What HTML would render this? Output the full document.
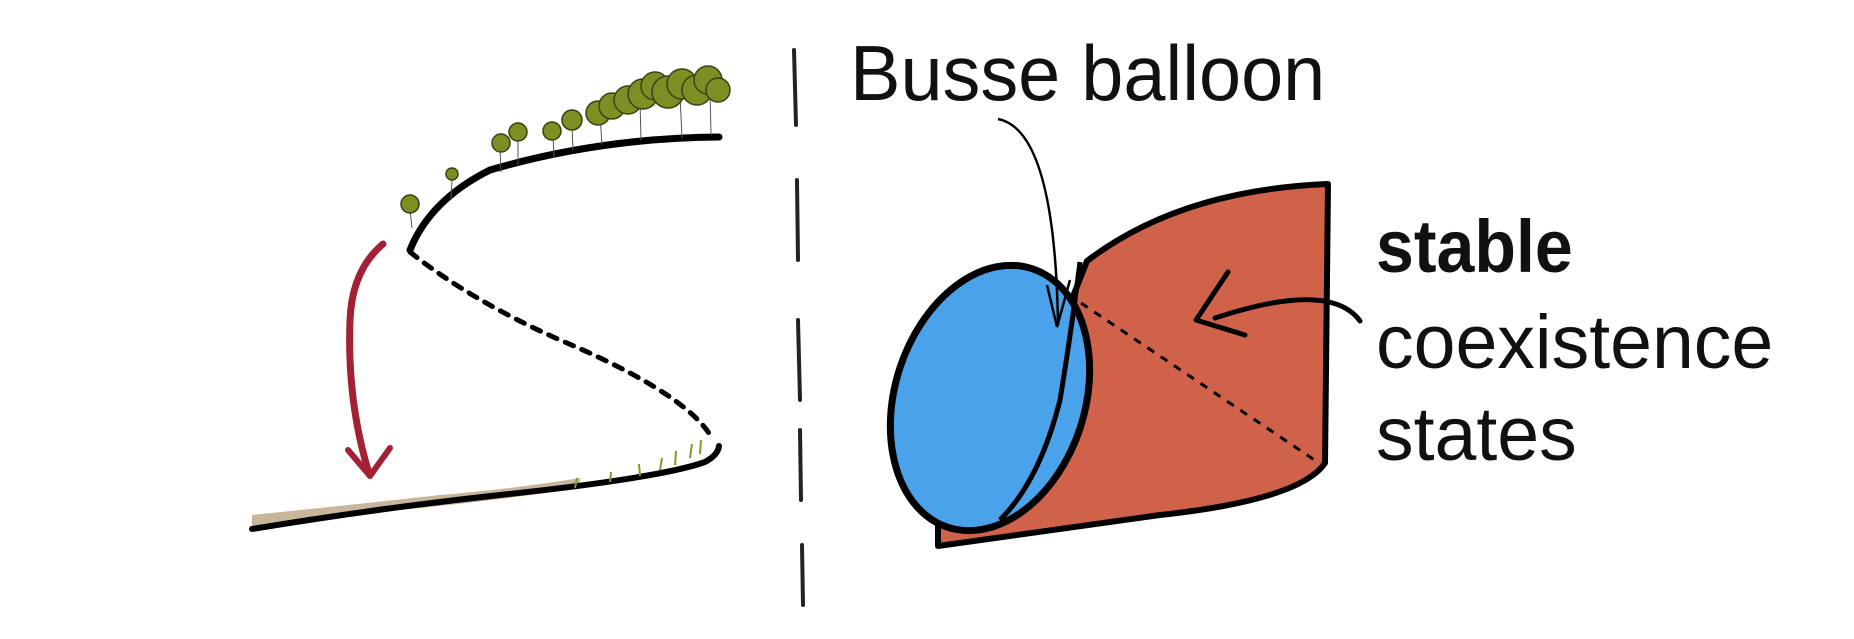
<!DOCTYPE html>
<html><head><style>html,body{margin:0;padding:0;background:#fff}svg{display:block}</style></head>
<body>
<svg width="1854" height="639" viewBox="0 0 1854 639" xmlns="http://www.w3.org/2000/svg">
<path d="M794 50 L796 125 M797 180 L798 260 M798 320 L800 400 M800 430 L801 500 M802 545 L803 605" stroke="#222" stroke-width="4" fill="none" stroke-linecap="round"/>
<path d="M252 515 Q350 505 440 495 Q520 488 580 478 L580 488 Q500 500 420 508 Q330 516 252 526 Z" fill="#c9b59a"/>
<path d="M252 529 Q380 508 500 495 Q660 478 705 462 Q718 455 719 446" stroke="#000" stroke-width="6" fill="none" stroke-linecap="round"/>
<path d="M410 250 Q430 200 490 170 Q600 138 719 137" stroke="#000" stroke-width="7" fill="none" stroke-linecap="round"/>
<path d="M410 252 Q470 300 560 340 Q690 395 713 440" stroke="#000" stroke-width="5" fill="none" stroke-dasharray="9 9" stroke-linecap="round"/>
<g fill="#7d8f23" stroke="#3a4010" stroke-width="1.5">
<g stroke="#555" stroke-width="1"><line x1="410" y1="210" x2="412" y2="228"/><line x1="452" y1="178" x2="451" y2="200"/><line x1="500" y1="148" x2="501" y2="172"/><line x1="518" y1="140" x2="518" y2="165"/><line x1="553" y1="135" x2="554" y2="158"/><line x1="572" y1="125" x2="573" y2="150"/><line x1="600" y1="115" x2="602" y2="145"/><line x1="640" y1="100" x2="641" y2="140"/><line x1="680" y1="95" x2="682" y2="138"/><line x1="710" y1="90" x2="711" y2="135"/></g>
<circle cx="410" cy="204" r="9"/><circle cx="452" cy="174" r="6"/><circle cx="501" cy="143" r="9"/><circle cx="518" cy="132" r="9"/><circle cx="552" cy="131" r="9"/><circle cx="572" cy="120" r="10"/>
<circle cx="598" cy="113" r="12"/><circle cx="612" cy="106" r="13"/><circle cx="628" cy="100" r="14"/><circle cx="643" cy="94" r="15"/><circle cx="655" cy="86" r="14"/><circle cx="668" cy="92" r="16"/><circle cx="682" cy="84" r="15"/><circle cx="697" cy="90" r="15"/><circle cx="708" cy="80" r="14"/><circle cx="718" cy="90" r="12"/>
</g>
<g stroke="#7d9a2a" stroke-width="2" fill="none"><path d="M575 488 l2 -10 M610 482 l1 -10 M640 476 l-1 -12 M660 470 l2 -12 M675 465 l1 -14 M690 458 l2 -14 M700 454 l1 -14"/></g>
<path d="M383 244 Q352 270 350 320 Q347 400 368 470" stroke="#a32035" stroke-width="7" fill="none" stroke-linecap="round"/>
<path d="M348 450 L370 476 L390 448" stroke="#a32035" stroke-width="6" fill="none" stroke-linecap="round" stroke-linejoin="round"/>
<path d="M1087 261 Q1180 190 1328 184 L1325 463 Q1300 500 1160 515 Q1020 535 938 546 L938 520 L1040 380 Z" fill="#d0624a" stroke="#000" stroke-width="6" stroke-linejoin="round"/>
<ellipse cx="990" cy="398" rx="95" ry="136" transform="rotate(18 990 398)" fill="#4aa2ea" stroke="#000" stroke-width="7"/>
<path d="M1080 262 Q1070 340 1060 400 Q1040 480 1000 520" stroke="#000" stroke-width="5" fill="none"/>
<path d="M1081 303 L1319 463" stroke="#000" stroke-width="3" fill="none" stroke-dasharray="8 8"/>
<path d="M998 119 Q1055 130 1058 325" stroke="#000" stroke-width="2.5" fill="none"/>
<path d="M1047 285 L1057 327 L1070 280" stroke="#000" stroke-width="2.5" fill="none"/>
<path d="M1360 321 Q1330 280 1215 318" stroke="#000" stroke-width="5" fill="none" stroke-linecap="round"/>
<path d="M1228 272 L1196 320 L1245 335" stroke="#000" stroke-width="5" fill="none" stroke-linecap="round" stroke-linejoin="round"/>
<g font-family="Liberation Sans, sans-serif" fill="#111">
<text x="850" y="100" font-size="78" transform="translate(850 0) scale(0.97 1) translate(-850 0)">Busse balloon</text>
<text x="1376" y="272" font-size="74" font-weight="bold" transform="translate(1376 0) scale(0.92 1) translate(-1376 0)">stable</text>
<text x="1376" y="368" font-size="76" transform="translate(1376 0) scale(0.99 1) translate(-1376 0)">coexistence</text>
<text x="1376" y="460" font-size="76" transform="translate(1376 0) scale(0.99 1) translate(-1376 0)">states</text>
</g>
</svg>
</body></html>
